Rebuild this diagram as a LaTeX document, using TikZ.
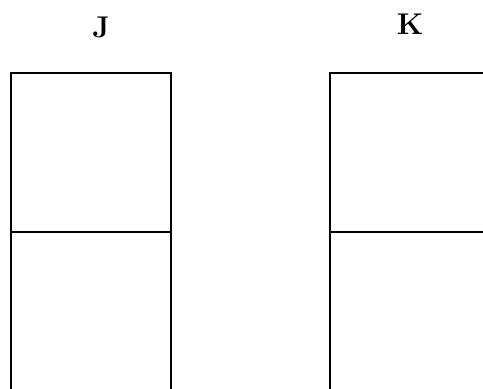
\documentclass[tikz,border=0pt]{standalone}
\usepackage{fontspec}
\begin{document}
\begin{tikzpicture}[x=1pt,y=-1pt,
  box/.style={draw=black,line width=2.6pt},
  lbl/.style={inner sep=0pt,font=\fontsize{30pt}{34pt}\selectfont\bfseries}]
\useasboundingbox (0,0) rectangle (483,389);
\clip (0,0) rectangle (483,389);
\node[lbl] (j) at (101,27) {J};
\node[lbl] (k) at (410,24) {K};
\draw[box] (11,73) rectangle (171,390);
\draw[box] (11,232) -- (171,232);
\draw[box] (330,73) rectangle (495,390);
\draw[box] (330,232) -- (495,232);
\end{tikzpicture}
\end{document}
